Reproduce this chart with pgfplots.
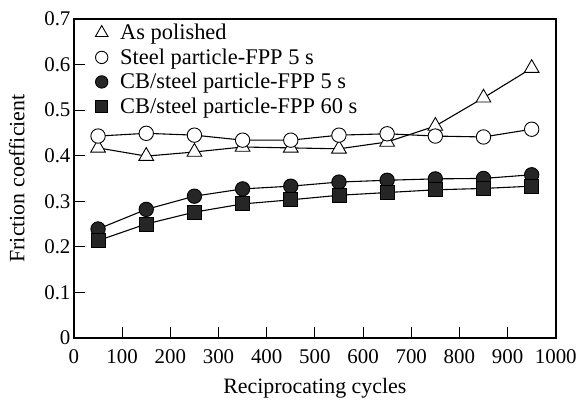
\documentclass[border=0pt]{standalone}
\usepackage{pgfplots}
\pgfplotsset{compat=1.18}
\usepackage{fontspec}
\setmainfont{Liberation Serif}
\definecolor{mfill}{HTML}{262626}
\begin{document}
\begin{tikzpicture}
\begin{axis}[
  name=ax,
  scale only axis,
  width=482bp, height=319bp,
  xmin=0, xmax=1000, ymin=0, ymax=0.7,
  xtick={0,100,...,1000},
  ytick={0,0.1,...,0.7},
  yticklabels={0,0.1,0.2,0.3,0.4,0.5,0.6,0.7},
  /pgf/number format/1000 sep={},
  tick align=inside,
  xtick pos=bottom, ytick pos=left,
  major tick length=11bp,
  axis line style={line width=2.5pt},
  tick style={line width=0.8pt, black},
  /pgf/number format/assume math mode=true,
  tick label style={font=\fontsize{21}{24}\selectfont},
  xticklabel style={yshift=-8bp},
  label style={font=\fontsize{22}{26}\selectfont},
  xlabel={Reciprocating cycles},
  ylabel={Friction coefficient},
  xlabel style={yshift=-8bp},
  ylabel style={yshift=13bp},
  legend image code/.code={\path (-7bp,0) (7bp,0); \draw[#1] plot coordinates {(0bp,0bp)};},
  legend style={draw=none, fill=none, at={(0.0415,0.99)}, anchor=north west,
    font=\fontsize{22.5}{26}\selectfont, row sep=3.5bp, column sep=9bp, inner sep=0pt,
    nodes={inner sep=2pt}},
  legend cell align=left,
  every axis plot/.append style={line width=1.1pt, black},
]
\addplot[mark=triangle*, mark size=8.5bp, mark options={fill=white, line width=0.9pt}, forget plot]
 coordinates {(50,0.417)(150,0.399)(250,0.408)(350,0.419)(450,0.417)(550,0.415)(650,0.430)(750,0.465)(850,0.527)(950,0.592)};
\addplot[mark=*, mark size=7.2bp, mark options={fill=white, line width=0.9pt}, forget plot]
 coordinates {(50,0.443)(150,0.449)(250,0.445)(350,0.434)(450,0.434)(550,0.445)(650,0.448)(750,0.443)(850,0.441)(950,0.458)};
\addplot[mark=*, mark size=7.2bp, mark options={fill=mfill, line width=0.9pt}, forget plot]
 coordinates {(50,0.239)(150,0.282)(250,0.311)(350,0.327)(450,0.333)(550,0.342)(650,0.346)(750,0.349)(850,0.350)(950,0.358)};
\addplot[mark=square*, mark size=7bp, mark options={fill=mfill, line width=0.9pt}, forget plot]
 coordinates {(50,0.2135)(150,0.250)(250,0.276)(350,0.294)(450,0.303)(550,0.313)(650,0.319)(750,0.325)(850,0.328)(950,0.333)};
\addlegendimage{only marks, mark=triangle*, mark size=7.3bp, mark options={fill=white, line width=0.9pt}}
\addlegendentry{As polished}
\addlegendimage{only marks, mark=*, mark size=6.2bp, mark options={fill=white, line width=0.9pt}}
\addlegendentry{Steel particle-FPP 5 s}
\addlegendimage{only marks, mark=*, mark size=6.2bp, mark options={fill=mfill, line width=0.9pt}}
\addlegendentry{CB/steel particle-FPP 5 s}
\addlegendimage{only marks, mark=square*, mark size=5.8bp, mark options={fill=mfill, line width=0.9pt}}
\addlegendentry{CB/steel particle-FPP 60 s}
\end{axis}
\path ([shift={(-74bp,-58bp)}]ax.south west) rectangle ([shift={(24bp,19bp)}]ax.north east);
\end{tikzpicture}
\end{document}
